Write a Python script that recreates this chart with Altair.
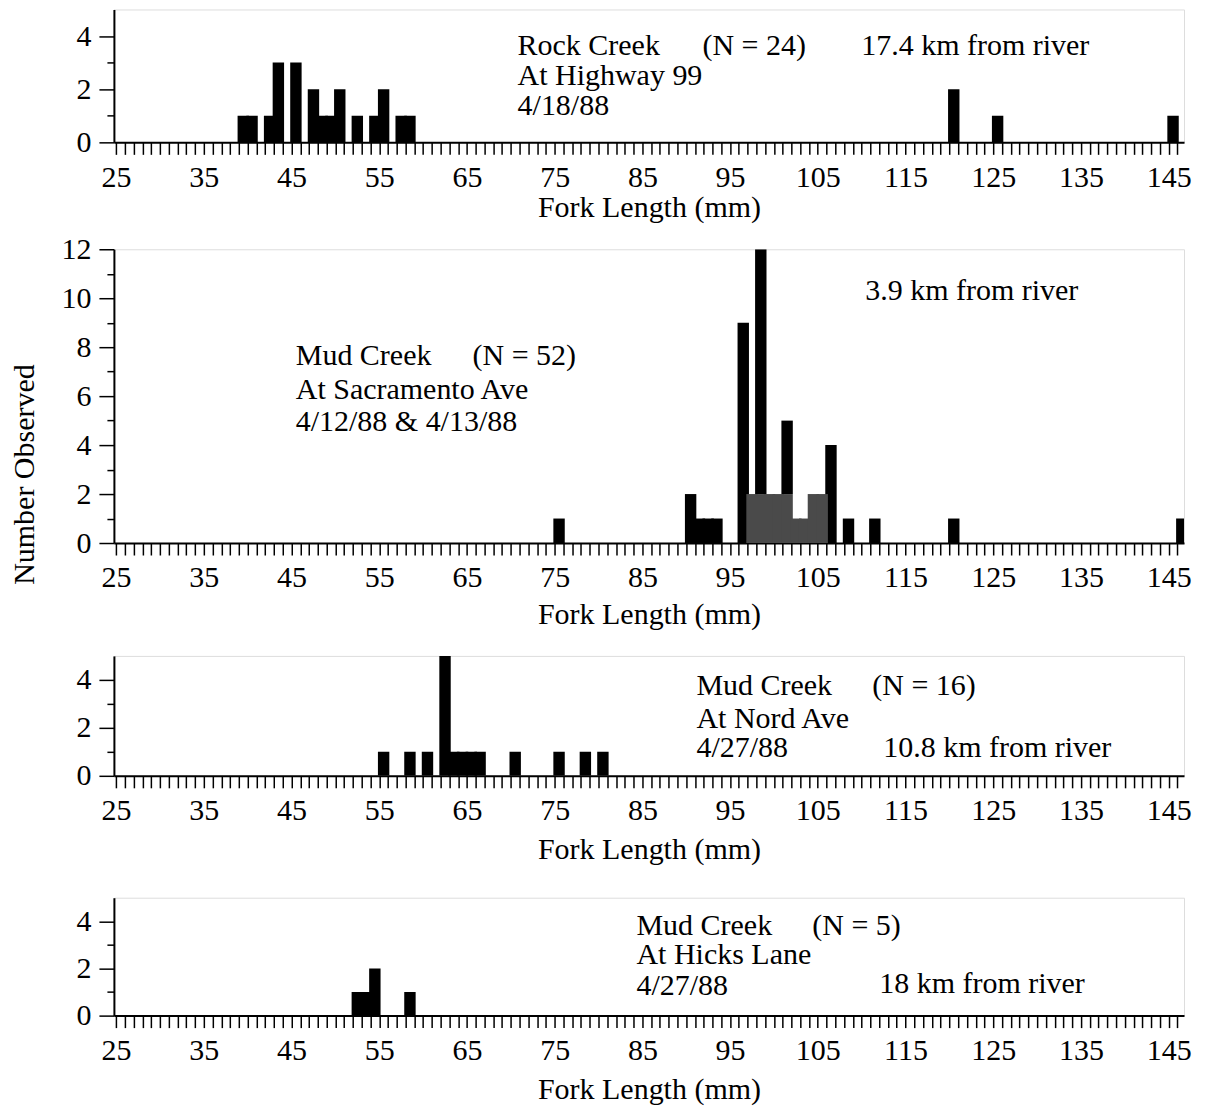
import altair as alt
import pandas as pd

FONT = "Liberation Serif"

# ---------------- data ----------------
# Panel 1: Rock Creek at Highway 99, 4/18/88
rock_len = [39, 40, 42, 43, 45, 47, 48, 49, 50, 52, 54, 55, 57, 58, 120, 125, 145]
rock_count = [1, 1, 1, 3, 3, 2, 1, 1, 2, 1, 1, 2, 1, 1, 2, 1, 1]

# Panel 2: Mud Creek at Sacramento Ave (solid and stippled portions)
sac_solid_len = [75, 90, 91, 92, 93, 96, 98, 101, 106, 108, 111, 120, 146]
sac_solid_count = [1, 2, 1, 1, 1, 9, 10, 3, 4, 1, 1, 1, 1]
sac_stip_len = [97, 98, 99, 100, 101, 102, 103, 104, 105]
sac_stip_count = [2, 2, 2, 2, 2, 1, 1, 2, 2]

# Panel 3: Mud Creek at Nord Ave, 4/27/88
nord_len = [55, 58, 60, 62, 63, 64, 65, 66, 70, 75, 78, 80]
nord_count = [1, 1, 1, 5, 1, 1, 1, 1, 1, 1, 1, 1]

# Panel 4: Mud Creek at Hicks Lane, 4/27/88
hicks_len = [52, 53, 54, 58]
hicks_count = [1, 1, 2, 1]

# annotation texts
p1_text = ["Rock Creek", "(N = 24)", "17.4 km from river", "At Highway 99", "4/18/88"]
p2_text = ["3.9 km from river", "Mud Creek", "(N = 52)", "At Sacramento Ave", "4/12/88 & 4/13/88"]
p3_text = ["Mud Creek", "(N = 16)", "At Nord Ave", "4/27/88", "10.8 km from river"]
p4_text = ["Mud Creek", "(N = 5)", "At Hicks Lane", "4/27/88", "18 km from river"]

# annotation placement (pixels inside each plot area)
p1_pos = [(404, 37), (589, 37), (748, 37), (404, 67), (404, 97)]
p2_pos = [(752, 42), (182, 107), (359, 107), (182, 141), (182, 173)]
p3_pos = [(583, 30), (759, 30), (583, 63), (583, 92), (770, 92)]
p4_pos = [(523, 28), (699, 28), (523, 57), (523, 88), (766, 86)]

X_DOMAIN = [24.75, 146.75]
W = 1071


def frame(lens, counts, parts=None):
    df = pd.DataFrame({"len": lens, "count": counts})
    df["part"] = "solid" if parts is None else parts
    return df


def panel(df, ymax, height, title_pad, texts, pos, ytitle=False):
    x_axis = alt.Axis(
        values=list(range(25, 147)), format="d",
        labelExpr="(datum.value - 25) % 10 === 0 ? datum.label : ''",
        tickSize=12, tickWidth=1.5, tickColor="black",
        domainColor="black", domainWidth=2,
        labelFont=FONT, labelFontSize=30, labelColor="black", labelPadding=8,
        labelOverlap=False, labelFlush=False, grid=False,
        title="Fork Length (mm)", titleFont=FONT, titleFontSize=30,
        titleFontWeight="normal", titleColor="black", titlePadding=title_pad,
    )
    yvals = list(range(0, ymax + 1)) if ymax > 5 else list(range(0, 5))
    y_kwargs = dict(
        values=yvals, format="d",
        labelExpr="datum.value % 2 === 0 ? datum.label : ''",
        tickSize={"condition": {"test": "datum.value % 2 === 0", "value": 15}, "value": 7},
        tickWidth=1.5, tickColor="black",
        domainColor="black", domainWidth=2,
        labelFont=FONT, labelFontSize=30, labelColor="black", labelPadding=8,
        labelOverlap=False, grid=False,
    )
    if ytitle:
        y_kwargs.update(
            title="Number Observed", titleFont=FONT, titleFontSize=30,
            titleFontWeight="normal", titleColor="black",
            titleX=-89, titleY=225, titleAngle=270,
            titleAlign="center", titleBaseline="middle",
        )
    y_axis = alt.Axis(**y_kwargs)
    ytitle_val = "Number Observed" if ytitle else None

    bars = (
        alt.Chart(df)
        .transform_calculate(lo="datum.len - 0.15", hi="datum.len + 1.15",
                             rank="datum.part === 'stippled' ? 0 : 1")
        .transform_stack(stack="count", groupby=["len"], as_=["y0", "y1"],
                         sort=[alt.SortField("rank", order="ascending")])
        .mark_bar(clip=True)
        .encode(
            x=alt.X("lo:Q", scale=alt.Scale(domain=X_DOMAIN, nice=False, zero=False), axis=x_axis),
            x2="hi:Q",
            y=alt.Y("y0:Q", scale=alt.Scale(domain=[0, ymax], nice=False, zero=True),
                    axis=y_axis, title=ytitle_val),
            y2="y1:Q",
            color=alt.Color("part:N", scale=alt.Scale(domain=["solid", "stippled"],
                                                      range=["#000000", "#4a4a4a"]), legend=None),
        )
    )
    layers = [bars]
    for t, (px, py) in zip(texts, pos):
        layers.append(
            alt.Chart(pd.DataFrame({"t": [t]}))
            .mark_text(font=FONT, fontSize=30, color="black", align="left", baseline="middle")
            .encode(x=alt.value(px), y=alt.value(py), text="t:N")
        )
    return alt.layer(*layers).properties(width=W, height=height)


sac_df = pd.concat([
    frame(sac_solid_len, sac_solid_count, "solid"),
    frame(sac_stip_len, sac_stip_count, "stippled"),
], ignore_index=True)

p1 = panel(frame(rock_len, rock_count), 5, 133, 0, p1_text, p1_pos)
p2 = panel(sac_df, 12, 294, 7, p2_text, p2_pos, ytitle=True)
p3 = panel(frame(nord_len, nord_count), 5, 120, 9, p3_text, p3_pos)
p4 = panel(frame(hicks_len, hicks_count), 5, 118, 9, p4_text, p4_pos)

top = alt.vconcat(p1, p2, spacing=10)
bottom = alt.vconcat(p3, p4, spacing=31)

chart = (
    alt.vconcat(top, bottom, spacing=24)
    .properties(padding={"left": 1, "top": 0, "right": 5, "bottom": 0})
    .configure_view(stroke="black", strokeWidth=2)
    .configure(background="white")
)

chart.save("out.html", embed_options={"renderer": "svg", "actions": False})
